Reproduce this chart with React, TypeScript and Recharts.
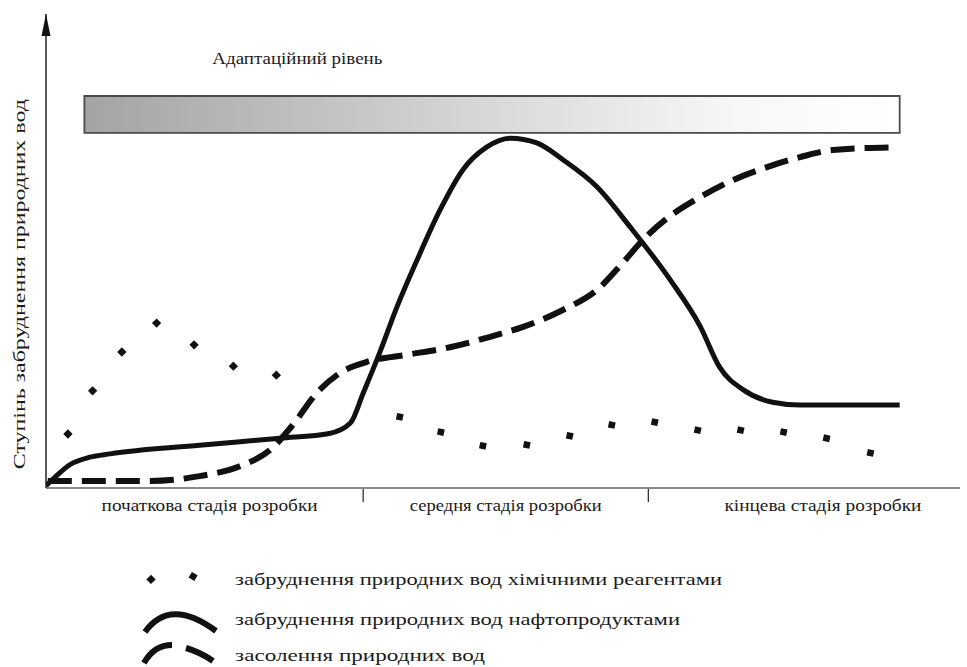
import React from 'react';
import { LineChart, Line, XAxis, YAxis, ReferenceArea, ReferenceDot, Legend, Label } from 'recharts';

// ---- data (x: 0..100 along development time, y: 0..100 pollution degree) ----
const stageLabels = ['початкова стадія розробки', 'середня стадія розробки', 'кінцева стадія розробки'];
const stageCenters = [17.9, 50.3, 85.0];
const stageBounds = [34.7, 65.9];

const chemicalPoints = [
  { x: 2.4, y: 11.4 }, { x: 5.1, y: 20.5 }, { x: 8.3, y: 28.7 }, { x: 12.1, y: 34.8 },
  { x: 16.2, y: 30.2 }, { x: 20.5, y: 25.7 }, { x: 25.2, y: 23.8 }, { x: 38.7, y: 15.0 },
  { x: 43.2, y: 11.8 }, { x: 47.8, y: 8.9 }, { x: 52.6, y: 9.1 }, { x: 57.3, y: 11.0 },
  { x: 61.9, y: 13.3 }, { x: 66.6, y: 13.9 }, { x: 71.3, y: 12.2 }, { x: 76.0, y: 12.2 },
  { x: 80.7, y: 11.8 }, { x: 85.4, y: 10.5 }, { x: 90.2, y: 7.4 },
];

const oilPoints = [
  { x: 0, y: 0.5 }, { x: 1.0, y: 2.3 }, { x: 2.6, y: 4.9 }, { x: 4.8, y: 6.5 },
  { x: 7.0, y: 7.2 }, { x: 16.8, y: 9.0 }, { x: 25.6, y: 10.5 }, { x: 31.0, y: 11.5 },
  { x: 33.3, y: 13.7 }, { x: 34.7, y: 20.0 }, { x: 36.5, y: 28.5 }, { x: 38.4, y: 38.2 },
  { x: 40.6, y: 48.1 }, { x: 43.1, y: 58.6 }, { x: 45.6, y: 67.1 }, { x: 48.2, y: 71.9 },
  { x: 50.8, y: 73.8 }, { x: 53.7, y: 72.8 }, { x: 56.6, y: 69.2 }, { x: 60.3, y: 63.5 },
  { x: 63.9, y: 55.1 }, { x: 68.3, y: 43.9 }, { x: 71.6, y: 34.0 }, { x: 73.7, y: 25.5 },
  { x: 76.3, y: 20.7 }, { x: 79.5, y: 18.1 }, { x: 82.5, y: 17.5 }, { x: 93.4, y: 17.5 },
];

const salinityPoints = [
  { x: 0.2, y: 1.5 }, { x: 11.4, y: 1.5 }, { x: 16.8, y: 2.5 }, { x: 21.2, y: 4.6 },
  { x: 24.5, y: 8.0 }, { x: 27.0, y: 13.3 }, { x: 29.6, y: 20.0 }, { x: 32.2, y: 24.3 },
  { x: 35.1, y: 26.6 }, { x: 39.5, y: 28.1 }, { x: 44.2, y: 29.7 }, { x: 48.6, y: 31.9 },
  { x: 52.2, y: 34.0 }, { x: 56.6, y: 37.6 }, { x: 60.3, y: 41.8 }, { x: 63.1, y: 47.5 },
  { x: 65.3, y: 52.3 }, { x: 67.9, y: 56.8 }, { x: 71.6, y: 61.4 }, { x: 75.2, y: 65.0 },
  { x: 78.9, y: 67.7 }, { x: 82.5, y: 69.8 }, { x: 86.1, y: 71.3 }, { x: 93.1, y: 71.9 },
];

const adaptiveLevel = { x1: 4.2, x2: 93.4, y1: 74.9, y2: 82.7 };
const adaptiveTitle = 'Адаптаційний рівень';
const yAxisTitle = 'Ступінь забруднення природних вод';
const seriesNames = [
  'забруднення природних вод хімічними реагентами',
  'забруднення природних вод нафтопродуктами',
  'засолення природних вод',
];

const INK = '#111';
const SERIF = 'Liberation Serif';

const StageTick = (props: any) => {
  const { x, y, payload } = props;
  const v = payload.value;
  if (stageBounds.indexOf(v) >= 0) {
    return <line x1={x} x2={x} y1={y + 1} y2={y + 14} stroke="#222" strokeWidth={1.2} />;
  }
  const i = stageCenters.indexOf(v);
  const widths = [216, 192, 197];
  return (
    <text x={x} y={y + 23} textAnchor="middle" fontFamily={SERIF} fontSize={16} fill="#1a1a1a"
      textLength={widths[i]} lengthAdjust="spacingAndGlyphs">
      {stageLabels[i]}
    </text>
  );
};

const YTitle = (props: any) => {
  const vb = props.viewBox || { x: 0, y: 0, width: 46, height: 474 };
  const cx = vb.x + 20;
  const cy = vb.y + vb.height * 0.57;
  return (
    <text x={cx} y={cy} transform={`rotate(-90 ${cx} ${cy})`} textAnchor="middle" dominantBaseline="central"
      fontFamily={SERIF} fontSize={16} fill="#1a1a1a" textLength={370} lengthAdjust="spacingAndGlyphs">
      {yAxisTitle}
    </text>
  );
};

const ChemDot = (props: any) => {
  const { cx, cy, index } = props;
  if (cx == null || cy == null) return null;
  const rot = index < 7 ? 45 : 12;
  return <rect key={`d${index}`} x={cx - 3.3} y={cy - 3.3} width={6.6} height={6.6} fill={INK}
    transform={`rotate(${rot} ${cx} ${cy})`} />;
};

const ArrowHead = (props: any) => {
  const { cx, cy } = props;
  return <path d={`M ${cx} ${cy} L ${cx - 4.5} ${cy + 22} L ${cx + 4.5} ${cy + 22} Z`} fill={INK} />;
};

const TitleMark = (props: any) => {
  const { cx, cy } = props;
  return (
    <text x={cx} y={cy} textAnchor="middle" dominantBaseline="central" fontFamily={SERIF} fontSize={16}
      fill="#1a1a1a" textLength={170} lengthAdjust="spacingAndGlyphs">{adaptiveTitle}</text>
  );
};

const LegendContent = () => {
  const tx = 105;
  const widths = [487, 445, 250];
  const rows = [19, 59, 95];
  return (
    <svg width={640} height={107} style={{ display: 'block', overflow: 'visible' }}>
      <rect x={18} y={rows[0] - 3} width={6.6} height={6.6} fill={INK} transform={`rotate(45 21 ${rows[0]})`} />
      <rect x={60} y={rows[0] - 6} width={6.6} height={6.6} fill={INK} transform={`rotate(30 63 ${rows[0] - 3})`} />
      <path d={`M 15 ${rows[1] + 13} Q 40 ${rows[1] - 22} 86 ${rows[1] + 12}`} fill="none" stroke={INK} strokeWidth={6} />
      <path d={`M 14 ${rows[2] + 8} Q 24 ${rows[2] - 10} 42 ${rows[2] - 10}`} fill="none" stroke={INK} strokeWidth={6} />
      <path d={`M 56 ${rows[2] - 7} Q 70 ${rows[2] - 3} 83 ${rows[2] + 6}`} fill="none" stroke={INK} strokeWidth={6} />
      {seriesNames.map((n, i) => (
        <text key={n} x={tx} y={rows[i]} dominantBaseline="central" fontFamily={SERIF} fontSize={16} fill="#1a1a1a"
          textLength={widths[i]} lengthAdjust="spacingAndGlyphs">{n}</text>
      ))}
    </svg>
  );
};

export default function App() {
  return (
    <div style={{ position: 'absolute', left: 0, top: 0, width: 967, height: 667, background: '#fff' }}>
      <LineChart width={967} height={667} margin={{ top: 14, right: 7, bottom: 149, left: 0 }}>
        <defs>
          <linearGradient id="adaptGrad" x1="0" y1="0" x2="1" y2="0">
            <stop offset="0" stopColor="#a4a4a4" />
            <stop offset="0.3" stopColor="#c3c3c3" />
            <stop offset="0.55" stopColor="#dedede" />
            <stop offset="0.8" stopColor="#f7f7f7" />
            <stop offset="1" stopColor="#ffffff" />
          </linearGradient>
        </defs>
        <XAxis type="number" dataKey="x" domain={[0, 100]} allowDataOverflow
          ticks={[...stageCenters, ...stageBounds]} interval={0} tick={<StageTick />}
          tickLine={false} tickSize={0} tickMargin={0} height={30}
          axisLine={{ stroke: '#8a8a8a', strokeWidth: 2 }} />
        <YAxis type="number" dataKey="y" domain={[0, 100]} allowDataOverflow width={46} tick={false}
          tickLine={false} axisLine={{ stroke: '#222', strokeWidth: 1.5 }}
          label={<Label content={YTitle} />} />
        <ReferenceArea x1={adaptiveLevel.x1} x2={adaptiveLevel.x2} y1={adaptiveLevel.y1} y2={adaptiveLevel.y2}
          fill="url(#adaptGrad)" fillOpacity={1} stroke="#4a4a4a" strokeWidth={1.8} ifOverflow="visible" />
        <ReferenceDot x={27.5} y={90.7} r={0} shape={TitleMark} ifOverflow="visible" />
        <ReferenceDot x={0} y={100} r={0} shape={ArrowHead} ifOverflow="visible" />
        <Line data={salinityPoints} dataKey="y" name={seriesNames[2]} type="monotone" stroke={INK}
          strokeWidth={6} strokeDasharray="24 10" dot={false} activeDot={false} isAnimationActive={false} />
        <Line data={oilPoints} dataKey="y" name={seriesNames[1]} type="monotone" stroke={INK}
          strokeWidth={5} dot={false} activeDot={false} isAnimationActive={false} />
        <Line data={chemicalPoints} dataKey="y" name={seriesNames[0]} stroke="none" strokeWidth={0}
          dot={<ChemDot />} activeDot={false} isAnimationActive={false} />
        <Legend layout="horizontal" verticalAlign="middle" align="center" content={<LegendContent />}
          wrapperStyle={{ position: 'absolute', left: 130, top: 560, width: 640, height: 107 }} />
      </LineChart>
    </div>
  );
}
